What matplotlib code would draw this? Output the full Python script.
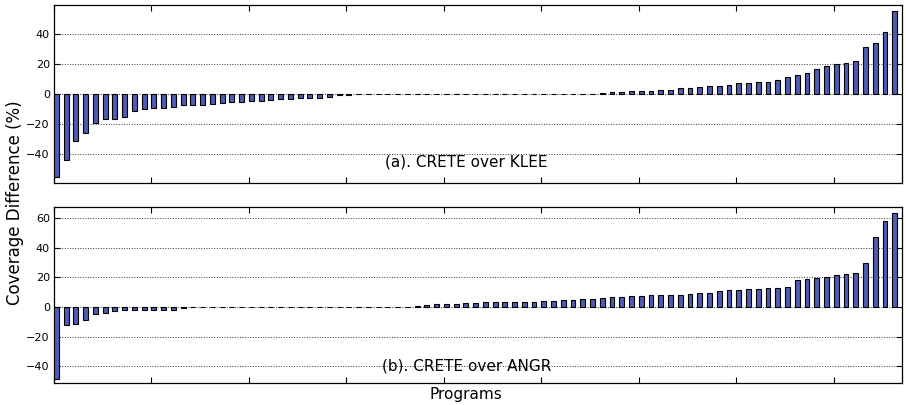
import numpy as np
import matplotlib
matplotlib.use("Agg")
import matplotlib.pyplot as plt

# Coverage difference per program, sorted
klee_diff = [-55.1, -44.0, -31.3, -25.6, -18.9, -16.7, -16.2, -15.3, -10.9, -10.0,
             -9.3, -9.3, -8.4, -7.3, -7.1, -7.1, -6.2, -6.0, -5.1, -4.9,
             -4.4, -4.2, -4.0, -3.3, -3.1, -2.7, -2.4, -2.2, -1.8, -0.8,
             -0.4] + [0.0] * 23 + [
             0.3, 0.5, 0.8, 1.3, 1.6, 2.0, 2.0, 2.2, 2.7, 3.1,
             4.0, 4.2, 4.9, 5.3, 5.6, 6.2, 7.3, 7.6, 8.0, 8.2,
             9.8, 11.8, 13.1, 14.4, 17.1, 19.1, 20.4, 21.1, 22.4, 31.1,
             33.8, 41.1, 55.5]

angr_diff = [-48.3, -11.9, -11.5, -8.5, -4.5, -4.0, -2.5, -2.0, -2.0, -2.0,
             -2.0, -1.8, -1.8, -0.5] + [0.0] * 22 + [
             0.3, 0.9, 1.3, 1.8, 2.2, 2.2, 2.5, 2.5, 3.1, 3.1,
             3.1, 3.4, 3.4, 3.4, 3.8, 4.3, 4.7, 4.9, 5.1, 5.2,
             5.8, 6.7, 6.7, 7.2, 7.6, 7.9, 8.1, 8.3, 8.3, 8.5,
             9.4, 9.4, 10.6, 11.7, 11.7, 12.1, 12.4, 12.8, 13.0, 13.7,
             18.4, 18.7, 19.6, 20.4, 21.3, 22.2, 22.7, 29.7, 47.4, 57.8,
             63.6]

titles = ["(a). CRETE over KLEE", "(b). CRETE over ANGR"]
yticks_top = [-40, -20, 0, 20, 40]
yticks_bottom = [-40, -20, 0, 20, 40, 60]

bar_color = "#4f5cb4"

fig = plt.figure(figsize=(9.06, 4.05), dpi=100)
ax1 = fig.add_axes([0.0596, 0.548, 0.936, 0.4395])
ax2 = fig.add_axes([0.0596, 0.0543, 0.936, 0.4346])


def draw_panel(ax, values, yticks, ylim, label, label_y):
    x = np.arange(len(values))
    ax.bar(x, values, width=0.5, align="edge", color=bar_color,
           edgecolor="black", linewidth=0.8, zorder=3)
    ax.set_xlim(0, len(values))
    ax.set_ylim(*ylim)
    ax.set_xticks(np.arange(0, len(values), 10))
    ax.set_xticklabels([])
    ax.set_yticks(yticks)
    ax.yaxis.grid(True, linestyle=":", color="#333333", linewidth=0.7, zorder=0)
    ax.tick_params(direction="in", top=True, right=True, length=4,
                   labelsize=8, pad=3)
    for s in ax.spines.values():
        s.set_linewidth(0.9)
    ax.text(len(values) / 2 - 1.2, label_y, label, ha="center", va="center",
            fontsize=11)


draw_panel(ax1, klee_diff, yticks_top, (-59.0, 59.3), titles[0], -45.0)
draw_panel(ax2, angr_diff, yticks_bottom, (-51.2, 67.4), titles[1], -40.0)

# axis labels placed directly on the figure
fig.text(0.514, 0.027, "Programs", ha="center", va="center", fontsize=11)
fig.text(0.017, 0.5, "Coverage Difference (%)", rotation=90,
         ha="center", va="center", fontsize=12)

fig.savefig("out.png", dpi=100)
